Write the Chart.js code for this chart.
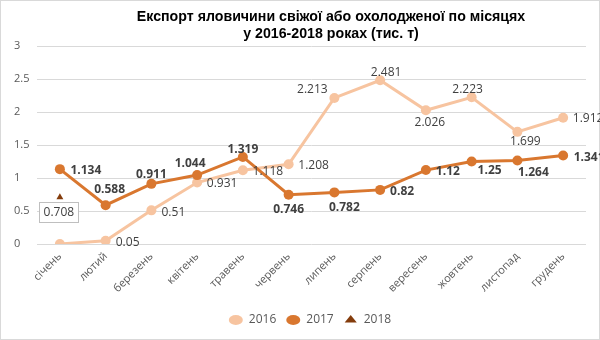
<!DOCTYPE html>
<html>
<head>
<meta charset="utf-8">
<script src="https://cdn.jsdelivr.net/npm/chart.js@4/dist/chart.umd.min.js"></script>
<style>
html,body{margin:0;padding:0;background:#fff;}
#wrap{width:600px;height:340px;position:relative;}
</style>
</head>
<body>
<div id="wrap"><canvas id="c" width="600" height="340"></canvas></div>
<script>
const titleLines = ['Експорт яловичини свіжої або охолодженої по місяцях', 'у 2016-2018 роках (тис. т)'];
const months = ['січень','лютий','березень','квітень','травень','червень','липень','серпень','вересень','жовтень','листопад','грудень'];
const seriesNames = ['2016','2017','2018'];
const values2016 = [0, 0.05, 0.51, 0.931, 1.118, 1.208, 2.213, 2.481, 2.026, 2.223, 1.699, 1.912];
const values2017 = [1.134, 0.588, 0.911, 1.044, 1.319, 0.746, 0.782, 0.82, 1.12, 1.25, 1.264, 1.341];
const values2018 = [0.708, null, null, null, null, null, null, null, null, null, null, null];
const yTicks = [0, 0.5, 1, 1.5, 2, 2.5, 3];

// label placement offsets (pixels, label centre relative to its point)
const labelOffsets2016 = [null,[22,2],[22,2],[25,1],[25,1],[25,1],[-22,-8],[6,-8],[4,12],[-4,-8],[8,10],[25,1]];
const labelOffsets2017 = [[26,1],[4,-16],[0,-9],[-7,-12],[0,-7],[0,15],[10,15],[22,2],[22,1],[18,9],[16,12],[26,2]];
const labelOffsets2018 = [[-1,15]];

const fmt = v => String(v);

const bgPlugin = {
  id: 'bg',
  beforeDraw(chart) {
    const ctx = chart.ctx;
    ctx.save();
    ctx.fillStyle = '#ffffff';
    ctx.fillRect(0, 0, chart.width, chart.height);
    ctx.strokeStyle = '#d9d9d9';
    ctx.lineWidth = 1;
    ctx.strokeRect(0.5, 0.5, chart.width - 1, chart.height - 1);
    ctx.restore();
  }
};

const legendShift = {
  id: 'legendShift',
  afterLayout(chart) {
    if (chart.legend) { chart.legend.left += 10; chart.legend.right += 10; }
  }
};

const titlePlugin = {
  id: 'customTitle',
  afterDraw(chart) {
    const ctx = chart.ctx;
    ctx.save();
    ctx.fillStyle = '#000000';
    ctx.font = 'bold 14.2px "Liberation Sans", Arial, sans-serif';
    ctx.textAlign = 'center';
    ctx.textBaseline = 'middle';
    titleLines.forEach((t, i) => ctx.fillText(t, 331, 17 + i * 17));
    ctx.restore();
  }
};

const labelsPlugin = {
  id: 'pointLabels',
  afterDatasetsDraw(chart) {
    const ctx = chart.ctx;
    const cfgs = [
      {offs: labelOffsets2016, font: '12px "Open Sans", sans-serif', box: false},
      {offs: labelOffsets2017, font: 'bold 12px "Open Sans", sans-serif', box: false},
      {offs: labelOffsets2018, font: '12px "Open Sans", sans-serif', box: true}
    ];
    ctx.save();
    ctx.textAlign = 'center';
    ctx.textBaseline = 'middle';
    chart.data.datasets.forEach((ds, di) => {
      const meta = chart.getDatasetMeta(di);
      const cfg = cfgs[di];
      ds.data.forEach((v, j) => {
        if (v === null || v === undefined) return;
        const off = cfg.offs[j];
        if (!off) return;
        const el = meta.data[j];
        const x = el.x + off[0], y = el.y + off[1];
        const txt = fmt(v);
        ctx.font = cfg.font;
        if (cfg.box) {
          const w = Math.round(ctx.measureText(txt).width + 8);
          const h = 20;
          const bx = Math.round(x - w / 2) + 0.5, by = Math.round(y - h / 2) + 0.5;
          ctx.fillStyle = '#ffffff';
          ctx.fillRect(bx, by, w, h);
          ctx.strokeStyle = '#bfbfbf';
          ctx.lineWidth = 1;
          ctx.strokeRect(bx, by, w, h);
        }
        ctx.fillStyle = '#404040';
        ctx.fillText(txt, x, y);
      });
    });
    ctx.restore();
  }
};

new Chart(document.getElementById('c'), {
  type: 'line',
  data: {
    labels: months,
    datasets: [
      {
        label: seriesNames[0], data: values2016,
        borderColor: '#F7C4A0', backgroundColor: '#F7C4A0',
        borderWidth: 3, pointRadius: 5, pointHoverRadius: 5,
        pointStyle: 'circle', pointBackgroundColor: '#F7C4A0', pointBorderColor: '#F7C4A0', pointBorderWidth: 0,
        tension: 0, order: 2
      },
      {
        label: seriesNames[1], data: values2017,
        borderColor: '#D9772F', backgroundColor: '#D9772F',
        borderWidth: 3, pointRadius: 5, pointHoverRadius: 5,
        pointStyle: 'circle', pointBackgroundColor: '#D9772F', pointBorderColor: '#D9772F', pointBorderWidth: 0,
        tension: 0, order: 1
      },
      {
        label: seriesNames[2], data: values2018,
        borderColor: '#843C0C', backgroundColor: '#843C0C',
        showLine: false, borderWidth: 2, pointRadius: 4, pointHoverRadius: 4,
        pointStyle: 'triangle', pointBackgroundColor: '#843C0C', pointBorderColor: '#843C0C', pointBorderWidth: 0,
        order: 0
      }
    ]
  },
  options: {
    responsive: false,
    animation: false,
    devicePixelRatio: 1,
    layout: { padding: { top: 46, left: 14, right: 14, bottom: 4 } },
    plugins: {
      title: { display: false },
      tooltip: { enabled: false },
      legend: {
        display: true,
        position: 'bottom',
        labels: {
          usePointStyle: true,
          boxHeight: 7,
          pointStyleWidth: 14,
          padding: 10,
          color: '#595959',
          font: { family: '"Open Sans", sans-serif', size: 12 },
          sort: (a, b) => a.datasetIndex - b.datasetIndex
        }
      }
    },
    scales: {
      x: {
        offset: true,
        grid: { display: false, drawTicks: false },
        border: { display: false },
        ticks: {
          autoSkip: false, minRotation: 45, maxRotation: 45, padding: 6,
          color: '#595959', font: { family: '"Open Sans", sans-serif', size: 11 }
        },
        afterFit(scale) { scale.height = 60; }
      },
      y: {
        min: yTicks[0], max: yTicks[yTicks.length - 1],
        afterBuildTicks(scale) { scale.ticks = yTicks.map(v => ({ value: v })); },
        grid: { color: '#d9d9d9', lineWidth: 1, drawTicks: false },
        border: { display: false },
        ticks: {
          crossAlign: 'far', padding: 0,
          callback: v => String(v),
          color: '#595959', font: { family: '"Open Sans", sans-serif', size: 11 }
        },
        afterFit(scale) { scale.width = 23; }
      }
    }
  },
  plugins: [bgPlugin, legendShift, labelsPlugin, titlePlugin]
});
</script>
</body>
</html>
